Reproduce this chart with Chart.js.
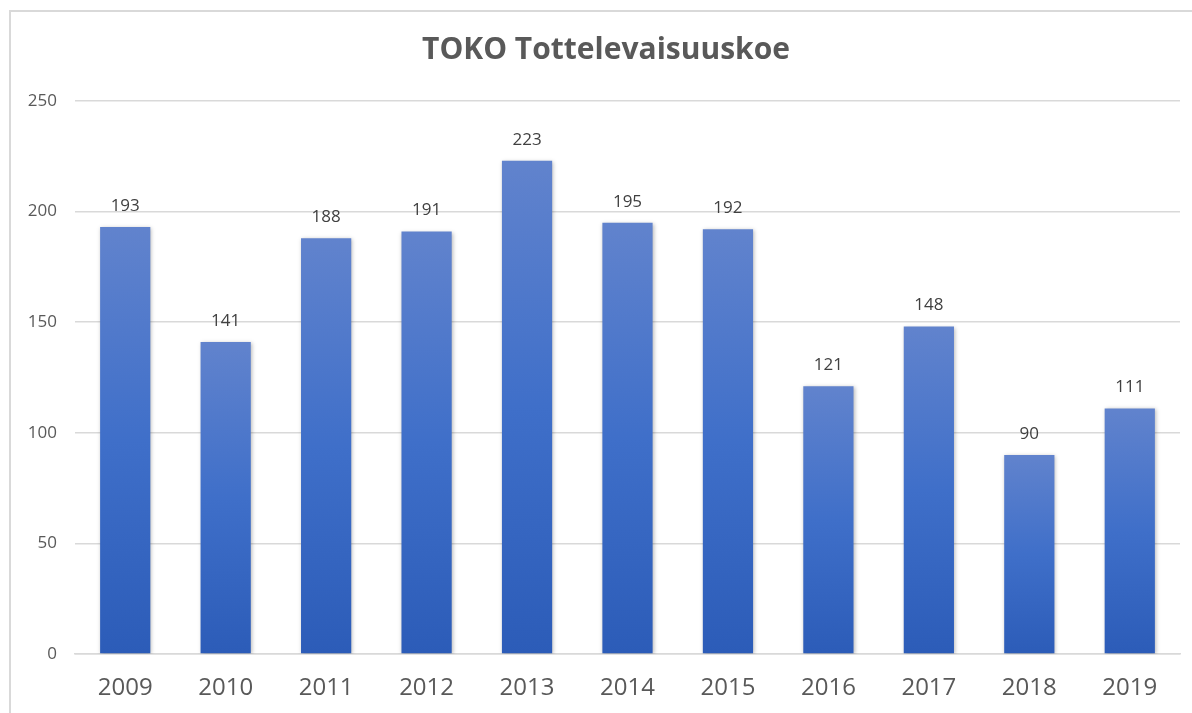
<!DOCTYPE html>
<html>
<head>
<meta charset="utf-8">
<script src="https://cdn.jsdelivr.net/npm/chart.js@4/dist/chart.umd.min.js"></script>
<style>
  body{margin:0;background:#fff;overflow:hidden;}
  #box{position:absolute;left:9px;top:10px;width:1190px;height:710px;border-left:2px solid #d9d9d9;border-top:2px solid #d9d9d9;}
</style>
</head>
<body>
<div id="box"><canvas id="grafico" width="1190" height="703"></canvas></div>
<script>
// Data
const otsikko = "TOKO Tottelevaisuuskoe";
const vuodet = ["2009","2010","2011","2012","2013","2014","2015","2016","2017","2018","2019"];
const osallistujat = [193,141,188,191,223,195,192,121,148,90,111];
const yTicks = [0,50,100,150,200,250];

const harmaa = "#595959";
const fontti = "'Open Sans', 'Liberation Sans', sans-serif";

// gradient for each bar, from its top down to the axis
function palkkiVari(c){
  const chart = c.chart;
  if(!chart.chartArea || c.type!=="data") return "#3f6fc9";
  const y = chart.scales.y;
  const top = y.getPixelForValue(c.raw);
  const base = y.getPixelForValue(0);
  const g = chart.ctx.createLinearGradient(0, top, 0, base);
  g.addColorStop(0, "#6183cd");
  g.addColorStop(0.5, "#3f6fc9");
  g.addColorStop(1, "#2c5cb8");
  return g;
}

// shadow under bars + value labels over bars + title
const varjo = {
  id:"varjo",
  beforeDatasetDraw(chart){
    const ctx = chart.ctx;
    ctx.save();
    ctx.shadowColor = "rgba(0,0,0,0.28)";
    ctx.shadowBlur = 4;
    ctx.shadowOffsetX = 1;
    ctx.shadowOffsetY = 1;
  },
  afterDatasetDraw(chart){ chart.ctx.restore(); }
};
const arvot = {
  id:"arvot",
  afterDatasetsDraw(chart){
    const ctx = chart.ctx;
    const meta = chart.getDatasetMeta(0);
    ctx.save();
    ctx.font = "17px " + fontti;
    ctx.fillStyle = "#404040";
    ctx.textAlign = "center";
    ctx.textBaseline = "middle";
    meta.data.forEach((bar,i)=>{
      ctx.fillText(String(osallistujat[i]), bar.x, bar.y - 21);
    });
    // otsikko koko kuvan keskelle
    ctx.font = "bold 30px " + fontti;
    ctx.fillStyle = harmaa;
    ctx.fillText(otsikko, chart.width/2, 38);
    ctx.restore();
  }
};

new Chart(document.getElementById("grafico"),{
  type:"bar",
  data:{labels:vuodet,datasets:[{
    label:otsikko,
    data:osallistujat,
    backgroundColor:palkkiVari,
    borderWidth:0,
    barPercentage:0.5,
    categoryPercentage:1
  }]},
  options:{
    responsive:false,
    animation:false,
    layout:{padding:{left:0,right:21,top:89,bottom:15}},
    plugins:{
      legend:{display:false},
      tooltip:{enabled:false},
      title:{display:false}
    },
    scales:{
      x:{
        afterFit(s){s.height=46;},
        grid:{display:false,drawTicks:false},
        border:{display:true,color:"#d9d9d9",width:1.5},
        ticks:{color:harmaa,font:{family:fontti,size:24},padding:20}
      },
      y:{
        min:0,max:250,
        afterFit(s){s.width=64;},
        afterBuildTicks(s){s.ticks=yTicks.map(v=>({value:v}));},
        grid:{color:"#d9d9d9",lineWidth:1.5,drawTicks:false},
        border:{display:false},
        ticks:{color:harmaa,font:{family:fontti,size:17},padding:18}
      }
    }
  },
  plugins:[varjo,arvot]
});
</script>
</body>
</html>
